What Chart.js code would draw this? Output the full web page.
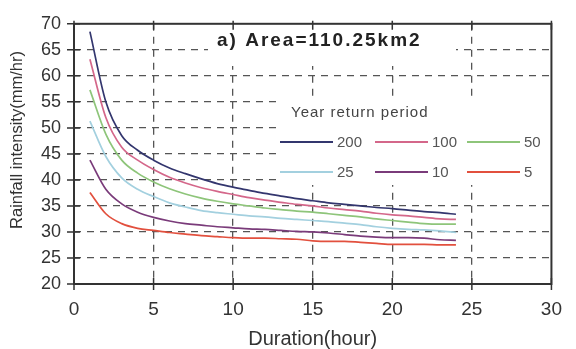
<!DOCTYPE html>
<html>
<head>
<meta charset="utf-8">
<script src="https://cdn.jsdelivr.net/npm/chart.js@4"></script>
<style>
  html, body { margin: 0; padding: 0; background: #fff; }
</style>
</head>
<body>
<canvas id="idf-chart" width="576" height="349"></canvas>
<script>
// Rainfall IDF curves, one list per return period (mm/hr), durations in hours
const durations = [1, 2, 3, 4, 5, 6, 7, 8, 9, 10, 11, 12, 13, 14, 15, 16, 17, 18, 19, 20, 21, 22, 23, 24];
const return_periods = ['200', '100', '50', '25', '10', '5'];

const rp200 = [68.5, 55.0, 48.5, 45.7, 43.8, 42.3, 41.2, 40.2, 39.3, 38.6, 38.0, 37.4, 36.9, 36.4, 36.0, 35.6, 35.3, 35.0, 34.7, 34.5, 34.2, 33.9, 33.7, 33.4];
const rp100 = [63.2, 52.0, 46.3, 43.8, 42.0, 40.5, 39.4, 38.5, 37.8, 37.2, 36.6, 36.1, 35.7, 35.3, 35.0, 34.6, 34.3, 34.0, 33.6, 33.3, 33.1, 32.8, 32.5, 32.4];
const rp50  = [57.3, 48.8, 43.8, 41.3, 39.6, 38.3, 37.3, 36.5, 35.9, 35.4, 35.0, 34.6, 34.3, 34.0, 33.8, 33.5, 33.2, 32.9, 32.5, 32.2, 31.9, 31.6, 31.5, 31.5];
const rp25  = [51.3, 44.5, 40.4, 38.2, 36.8, 35.6, 34.8, 34.1, 33.7, 33.4, 33.1, 32.9, 32.6, 32.4, 32.2, 32.0, 31.7, 31.4, 31.0, 30.7, 30.5, 30.4, 30.2, 29.9];
const rp10  = [43.8, 38.2, 35.4, 33.8, 32.8, 32.1, 31.6, 31.3, 31.0, 30.8, 30.6, 30.5, 30.3, 30.1, 30.0, 29.8, 29.5, 29.2, 29.0, 28.9, 28.9, 28.8, 28.5, 28.4];
const rp5   = [37.6, 33.5, 31.6, 30.7, 30.3, 29.9, 29.6, 29.3, 29.1, 28.9, 28.8, 28.8, 28.7, 28.6, 28.3, 28.2, 28.2, 28.0, 27.8, 27.6, 27.6, 27.6, 27.5, 27.5];

const x_ticks = [0, 5, 10, 15, 20, 25, 30];
const y_ticks = [20, 25, 30, 35, 40, 45, 50, 55, 60, 65, 70];

const series = [rp200, rp100, rp50, rp25, rp10, rp5];
const line_colors = ['#33366e', '#d4678a', '#8ec57a', '#a3d0df', '#7a3b7a', '#e2503e'];

const FONT = '"Liberation Sans", Arial, sans-serif';

const data = {
    datasets: series.map((vals, i) => ({
        label: return_periods[i],
        data: durations.map((d, j) => ({ x: d, y: vals[j] })),
        borderColor: line_colors[i],
        borderWidth: 1.7,
        pointRadius: 0,
        fill: false,
        cubicInterpolationMode: 'monotone'
    }))
};

// gridlines at the ends are covered by the frame
function grid_color(ctx) {
    const v = ctx.tick ? ctx.tick.value : null;
    const s = ctx.scale;
    if (v === s.min || v === s.max) return 'rgba(0,0,0,0)';
    return '#555';
}

const frame_plugin = {
    id: 'frame',
    beforeDatasetsDraw(chart) {
        const c = chart.ctx;
        const a = chart.chartArea;
        c.save();
        // white boxes behind title and legend
        c.fillStyle = '#fff';
        c.fillRect(208, 21, 248, 45);
        c.fillRect(278, 99, 274, 86);

        c.strokeStyle = '#333';
        c.lineWidth = 2;
        c.strokeRect(a.left, a.top, a.right - a.left, a.bottom - a.top);

        c.lineWidth = 1.5;
        c.beginPath();
        x_ticks.forEach(v => {
            const px = chart.scales.x.getPixelForValue(v);
            c.moveTo(px, a.bottom - 6); c.lineTo(px, a.bottom + 6);
            c.moveTo(px, a.top - 3); c.lineTo(px, a.top + 6);
        });
        y_ticks.forEach(v => {
            const py = chart.scales.y.getPixelForValue(v);
            c.moveTo(a.left - 7, py); c.lineTo(a.left + 6, py);
        });
        c.stroke();
        c.restore();
    },
    afterDraw(chart) {
        const c = chart.ctx;
        const a = chart.chartArea;
        c.save();
        // title
        c.fillStyle = '#222';
        c.font = 'bold 19px ' + FONT;
        c.letterSpacing = '2px';
        c.textBaseline = 'middle';
        c.textAlign = 'left';
        c.fillText('a) Area=110.25km2', 217, 41);

        // legend
        c.fillStyle = '#444';
        c.font = '15px ' + FONT;
        c.letterSpacing = '1px';
        c.fillText('Year return period', 291, 113);
        c.letterSpacing = '0px';
        c.font = '15px ' + FONT;
        const cols = [280, 375, 467];
        const rows = [142, 172];
        return_periods.forEach((p, i) => {
            const x0 = cols[i % 3];
            const y0 = rows[Math.floor(i / 3)];
            c.strokeStyle = line_colors[i];
            c.lineWidth = 2;
            c.beginPath();
            c.moveTo(x0, y0); c.lineTo(x0 + 53, y0);
            c.stroke();
            c.fillStyle = '#555';
            c.fillText(p, x0 + 57, y0 + 1);
        });

        // axis titles
        c.fillStyle = '#333';
        c.font = '20px ' + FONT;
        c.textAlign = 'center';
        c.fillText('Duration(hour)', (a.left + a.right) / 2 + 0, 339);

        c.translate(17, 140);
        c.rotate(-Math.PI / 2);
        c.font = '16.5px ' + FONT;
        c.fillText('Rainfall intensity(mm/hr)', 0, 0);
        c.restore();
    }
};

const options = {
    responsive: false,
    animation: false,
    layout: { padding: { top: 17, right: 13, left: 0, bottom: 0 } },
    plugins: {
        legend: { display: false },
        tooltip: { enabled: false }
    },
    scales: {
        x: {
            type: 'linear',
            min: 0,
            max: 30,
            afterFit: s => { s.height = 65; },
            afterBuildTicks: s => { s.ticks = x_ticks.map(v => ({ value: v })); },
            ticks: {
                color: '#333',
                font: { family: FONT, size: 19 },
                padding: 14,
                maxRotation: 0
            },
            grid: { color: grid_color, lineWidth: 1.3, drawTicks: false },
            border: { display: false, dash: [7, 6] }
        },
        y: {
            min: 20,
            max: 70,
            afterFit: s => { s.width = 74; },
            afterBuildTicks: s => { s.ticks = y_ticks.map(v => ({ value: v })); },
            ticks: {
                color: '#333',
                font: { family: FONT, size: 18 },
                padding: 13
            },
            grid: { color: grid_color, lineWidth: 1.3, drawTicks: false },
            border: { display: false, dash: [7, 6] }
        }
    }
};

const ctx = document.getElementById('idf-chart').getContext('2d');
const idf_chart = new Chart(ctx, {
    type: 'line',
    data: data,
    options: options,
    plugins: [frame_plugin]
});
</script>
</body>
</html>
